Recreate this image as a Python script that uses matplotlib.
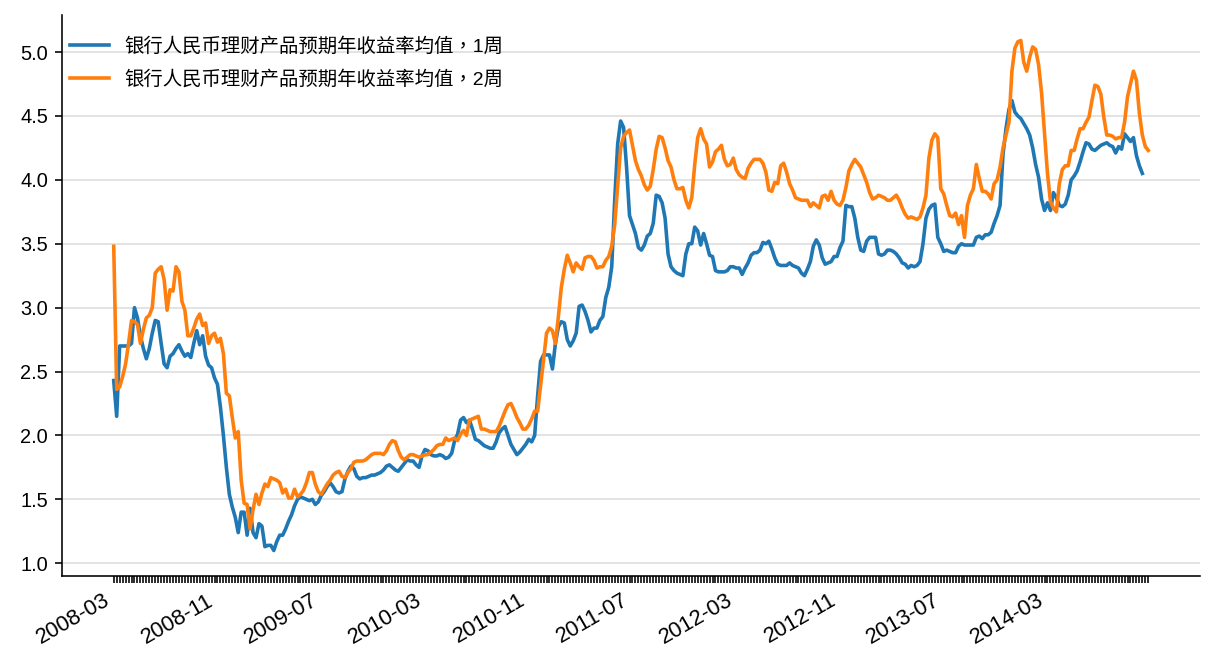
import matplotlib
matplotlib.use('Agg')
import matplotlib.pyplot as plt
import pandas as pd

plt.rcParams['font.family'] = ['Liberation Sans', 'Noto Sans CJK TC']

# weekly observation dates (category axis)
dates = pd.date_range('2008-03-07', periods=350, freq='W-FRI')

label_1w = '银行人民币理财产品预期年收益率均值，1周'
label_2w = '银行人民币理财产品预期年收益率均值，2周'

yield_1w = [
    2.43, 2.15, 2.70, 2.70, 2.70, 2.70, 2.72, 3.00, 2.92, 2.78,
    2.68, 2.60, 2.68, 2.80, 2.90, 2.89, 2.72, 2.56, 2.53, 2.62,
    2.64, 2.68, 2.71, 2.66, 2.62, 2.64, 2.61, 2.72, 2.82, 2.71,
    2.78, 2.62, 2.55, 2.53, 2.45, 2.40, 2.22, 2.00, 1.75, 1.54,
    1.44, 1.36, 1.24, 1.40, 1.40, 1.22, 1.43, 1.24, 1.20, 1.31,
    1.29, 1.13, 1.14, 1.14, 1.10, 1.17, 1.22, 1.22, 1.27, 1.33,
    1.38, 1.45, 1.50, 1.52, 1.51, 1.50, 1.49, 1.50, 1.46, 1.48,
    1.53, 1.56, 1.60, 1.63, 1.60, 1.56, 1.55, 1.56, 1.66, 1.72,
    1.76, 1.74, 1.68, 1.66, 1.67, 1.67, 1.68, 1.69, 1.69, 1.70,
    1.71, 1.73, 1.76, 1.77, 1.75, 1.73, 1.72, 1.75, 1.78, 1.81,
    1.80, 1.80, 1.77, 1.75, 1.84, 1.89, 1.88, 1.85, 1.84, 1.84,
    1.85, 1.84, 1.82, 1.83, 1.86, 1.96, 2.01, 2.12, 2.14, 2.10,
    2.12, 2.05, 1.97, 1.96, 1.94, 1.92, 1.91, 1.90, 1.90, 1.95,
    2.02, 2.05, 2.07, 2.00, 1.93, 1.89, 1.85, 1.87, 1.90, 1.93,
    1.97, 1.95, 2.00, 2.31, 2.58, 2.63, 2.63, 2.63, 2.52, 2.72,
    2.85, 2.89, 2.88, 2.75, 2.70, 2.74, 2.80, 3.01, 3.02, 2.97,
    2.90, 2.81, 2.84, 2.84, 2.90, 2.93, 3.08, 3.16, 3.32, 3.84,
    4.28, 4.46, 4.41, 4.10, 3.72, 3.65, 3.58, 3.47, 3.45, 3.49,
    3.56, 3.58, 3.66, 3.88, 3.87, 3.82, 3.70, 3.42, 3.32, 3.29,
    3.27, 3.26, 3.25, 3.42, 3.50, 3.50, 3.63, 3.60, 3.49, 3.58,
    3.50, 3.41, 3.40, 3.29, 3.28, 3.28, 3.28, 3.29, 3.32, 3.32,
    3.31, 3.31, 3.26, 3.31, 3.35, 3.41, 3.43, 3.43, 3.45, 3.51,
    3.50, 3.52, 3.46, 3.39, 3.34, 3.33, 3.33, 3.33, 3.35, 3.33,
    3.32, 3.31, 3.27, 3.25, 3.30, 3.36, 3.48, 3.53, 3.49, 3.39,
    3.34, 3.35, 3.36, 3.40, 3.40, 3.47, 3.52, 3.80, 3.79, 3.79,
    3.70, 3.55, 3.45, 3.44, 3.52, 3.55, 3.55, 3.55, 3.42, 3.41,
    3.42, 3.45, 3.45, 3.44, 3.42, 3.39, 3.35, 3.34, 3.31, 3.33,
    3.32, 3.33, 3.36, 3.50, 3.70, 3.77, 3.80, 3.81, 3.55, 3.50,
    3.44, 3.45, 3.44, 3.43, 3.43, 3.48, 3.50, 3.49, 3.49, 3.49,
    3.49, 3.55, 3.56, 3.54, 3.57, 3.57, 3.59, 3.66, 3.72, 3.80,
    4.20, 4.40, 4.55, 4.62, 4.53, 4.50, 4.48, 4.44, 4.40, 4.35,
    4.25, 4.12, 4.02, 3.85, 3.76, 3.82, 3.76, 3.90, 3.86, 3.80,
    3.79, 3.81, 3.88, 4.00, 4.03, 4.07, 4.14, 4.22, 4.29, 4.28,
    4.24, 4.23, 4.25, 4.27, 4.28, 4.29, 4.27, 4.26, 4.21, 4.26,
    4.24, 4.36, 4.33, 4.30, 4.33, 4.19, 4.11, 4.05,
]

yield_2w = [
    3.48, 2.36, 2.38, 2.46, 2.56, 2.72, 2.90, 2.89, 2.87, 2.72,
    2.83, 2.92, 2.94, 3.00, 3.27, 3.30, 3.32, 3.22, 2.98, 3.14,
    3.13, 3.32, 3.28, 3.05, 2.98, 2.78, 2.78, 2.84, 2.91, 2.95,
    2.86, 2.88, 2.72, 2.78, 2.80, 2.73, 2.76, 2.64, 2.33, 2.31,
    2.14, 1.98, 2.03, 1.65, 1.47, 1.46, 1.27, 1.42, 1.54, 1.46,
    1.55, 1.62, 1.60, 1.67, 1.66, 1.65, 1.63, 1.55, 1.58, 1.51,
    1.51, 1.58, 1.52, 1.54, 1.57, 1.63, 1.71, 1.71, 1.62, 1.56,
    1.54, 1.58, 1.62, 1.65, 1.69, 1.71, 1.72, 1.68, 1.67, 1.71,
    1.74, 1.79, 1.80, 1.80, 1.80, 1.81, 1.83, 1.85, 1.86, 1.86,
    1.86, 1.85, 1.88, 1.93, 1.96, 1.95, 1.88, 1.83, 1.81, 1.83,
    1.85, 1.85, 1.84, 1.83, 1.84, 1.85, 1.85, 1.87, 1.89, 1.92,
    1.93, 1.93, 1.98, 1.96, 1.97, 1.98, 1.96, 2.01, 2.04, 2.00,
    2.12, 2.13, 2.14, 2.15, 2.05, 2.05, 2.04, 2.03, 2.03, 2.03,
    2.07, 2.13, 2.19, 2.24, 2.25, 2.20, 2.14, 2.10, 2.05, 2.05,
    2.08, 2.13, 2.19, 2.19, 2.39, 2.59, 2.80, 2.84, 2.82, 2.72,
    2.93, 3.16, 3.30, 3.41, 3.35, 3.28, 3.35, 3.32, 3.30, 3.39,
    3.40, 3.40, 3.37, 3.31, 3.32, 3.32, 3.37, 3.40, 3.48, 3.65,
    3.95, 4.25, 4.34, 4.37, 4.39, 4.27, 4.15, 4.08, 4.03, 3.96,
    3.92, 3.95, 4.08, 4.24, 4.34, 4.33, 4.25, 4.15, 4.10, 4.00,
    3.93, 3.93, 3.94, 3.84, 3.78, 3.86, 4.12, 4.33, 4.40, 4.32,
    4.28, 4.10, 4.14, 4.22, 4.24, 4.27, 4.16, 4.11, 4.12, 4.17,
    4.08, 4.04, 4.02, 4.01, 4.09, 4.13, 4.16, 4.16, 4.16, 4.13,
    4.06, 3.92, 3.91, 3.98, 3.97, 4.11, 4.13, 4.06, 3.97, 3.92,
    3.86, 3.85, 3.84, 3.84, 3.84, 3.79, 3.82, 3.80, 3.78, 3.87,
    3.88, 3.84, 3.91, 3.84, 3.81, 3.80, 3.84, 3.94, 4.07, 4.12,
    4.16, 4.13, 4.10, 4.04, 3.98, 3.90, 3.85, 3.86, 3.88, 3.87,
    3.86, 3.84, 3.84, 3.86, 3.88, 3.84, 3.78, 3.73, 3.70, 3.71,
    3.70, 3.69, 3.71, 3.78, 3.88, 4.17, 4.31, 4.36, 4.33, 3.93,
    3.89, 3.80, 3.72, 3.71, 3.74, 3.65, 3.72, 3.55, 3.80, 3.88,
    3.93, 4.12, 4.01, 3.91, 3.91, 3.89, 3.85, 3.97, 4.00, 4.10,
    4.25, 4.35, 4.45, 4.85, 5.03, 5.08, 5.09, 4.92, 4.85, 4.96,
    5.04, 5.02, 4.90, 4.68, 4.36, 4.05, 3.83, 3.78, 3.75, 3.97,
    4.08, 4.11, 4.11, 4.23, 4.23, 4.32, 4.40, 4.40, 4.45, 4.49,
    4.62, 4.74, 4.73, 4.67, 4.49, 4.35, 4.35, 4.34, 4.32, 4.33,
    4.33, 4.45, 4.65, 4.75, 4.85, 4.78, 4.52, 4.35, 4.26, 4.23,
]

tick_labels = [d.strftime('%Y-%m') if i % 35 == 0 else '' for i, d in enumerate(dates)]

fig, ax = plt.subplots(figsize=(1216 / 144, 672 / 144), dpi=144)
fig.subplots_adjust(left=62 / 1216, right=1200 / 1216, bottom=96 / 672, top=657 / 672)

ax.plot(range(len(yield_1w)), yield_1w, color='#1f77b4', lw=1.8, label=label_1w)
ax.plot(range(len(yield_2w)), yield_2w, color='#ff7f0e', lw=1.8, label=label_2w)

ax.set_xticks(range(len(dates)))
ax.set_xticklabels(tick_labels, rotation=30, ha='right', fontsize=11)
ax.set_xlim(-0.05 * (len(dates) - 1), 1.05 * (len(dates) - 1))

ax.grid(axis='y', color='#e3e3e3', linewidth=1)
ax.set_axisbelow(True)
ax.spines['top'].set_visible(False)
ax.spines['right'].set_visible(False)

ax.legend(loc='upper left', bbox_to_anchor=(0.0, 0.975), borderaxespad=0,
          frameon=False, fontsize=9.7, labelspacing=0.75)

fig.savefig('out.png', dpi=144)
